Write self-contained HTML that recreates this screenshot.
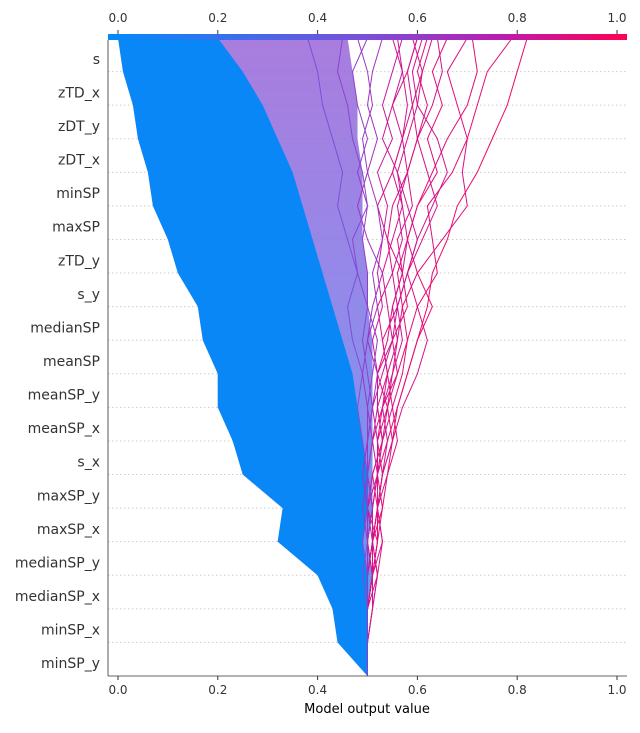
<!DOCTYPE html>
<html><head><meta charset="utf-8"><style>
body{margin:0;background:#fff;font-family:"Liberation Sans","DejaVu Sans",sans-serif}
svg text{font-family:"DejaVu Sans","Liberation Sans",sans-serif}
</style></head><body>
<svg id="chart" width="640" height="728" viewBox="0 0 640 728" xmlns="http://www.w3.org/2000/svg">
<defs>
<linearGradient id="cbar" x1="0" x2="1" y1="0" y2="0">
<stop offset="0" stop-color="#008bfb"/><stop offset="0.5" stop-color="#7b4fd8"/><stop offset="0.75" stop-color="#b81eb0"/><stop offset="1" stop-color="#ff0052"/>
</linearGradient>
<linearGradient id="band" x1="0" x2="0" y1="0" y2="1">
<stop offset="0" stop-color="#9a66d8"/><stop offset="0.5" stop-color="#7a78e8"/><stop offset="1" stop-color="#3a86f2"/>
</linearGradient>
</defs>
<g id="grid"></g>
<g id="marks"></g>
<g id="axes"></g>
</svg>
<script>
const features=["s","zTD_x","zDT_y","zDT_x","minSP","maxSP","zTD_y","s_y","medianSP","meanSP","meanSP_y","meanSP_x","s_x","maxSP_y","maxSP_x","medianSP_y","medianSP_x","minSP_x","minSP_y"];
const xTicks=[0,0.2,0.4,0.6,0.8,1.0];
const xTickLabels=["0.0","0.2","0.4","0.6","0.8","1.0"];
// envelopes, bottom (base) to top (output)
const blueLeft=[0.5,0.44,0.43,0.40,0.32,0.33,0.25,0.23,0.20,0.20,0.17,0.16,0.12,0.10,0.07,0.06,0.04,0.03,0.01,0.0];
const blueRight=[0.5,0.5,0.5,0.5,0.49,0.5,0.5,0.49,0.48,0.47,0.45,0.43,0.41,0.39,0.37,0.35,0.32,0.29,0.25,0.20];
const purpleRight=[0.5,0.5,0.5,0.51,0.5,0.51,0.51,0.51,0.51,0.51,0.51,0.5,0.5,0.49,0.49,0.49,0.48,0.48,0.47,0.46];
const lineValues=[
[0.5,0.5,0.5,0.51,0.52,0.52,0.53,0.55,0.56,0.58,0.6,0.62,0.63,0.66,0.68,0.72,0.75,0.78,0.8,0.82],
[0.5,0.5,0.51,0.52,0.51,0.53,0.54,0.56,0.55,0.57,0.58,0.6,0.64,0.63,0.62,0.67,0.7,0.72,0.74,0.79],
[0.5,0.5,0.5,0.51,0.5,0.51,0.52,0.52,0.54,0.55,0.56,0.57,0.6,0.65,0.7,0.69,0.7,0.68,0.66,0.7],
[0.5,0.5,0.5,0.5,0.51,0.52,0.53,0.52,0.53,0.56,0.58,0.57,0.56,0.58,0.6,0.64,0.62,0.65,0.63,0.66],
[0.5,0.5,0.5,0.51,0.52,0.5,0.51,0.53,0.52,0.52,0.55,0.54,0.53,0.55,0.57,0.56,0.58,0.6,0.61,0.63],
[0.5,0.5,0.5,0.5,0.51,0.51,0.5,0.51,0.53,0.54,0.53,0.52,0.55,0.54,0.52,0.55,0.57,0.55,0.58,0.6],
[0.5,0.5,0.51,0.51,0.5,0.51,0.52,0.52,0.51,0.53,0.55,0.56,0.58,0.6,0.58,0.56,0.53,0.55,0.57,0.56],
[0.5,0.5,0.5,0.51,0.51,0.52,0.51,0.53,0.54,0.52,0.54,0.55,0.57,0.54,0.55,0.58,0.6,0.62,0.6,0.62],
[0.5,0.5,0.5,0.5,0.51,0.5,0.52,0.51,0.52,0.52,0.51,0.53,0.52,0.53,0.54,0.52,0.55,0.53,0.55,0.57],
[0.5,0.5,0.5,0.51,0.52,0.53,0.52,0.54,0.56,0.58,0.6,0.63,0.6,0.58,0.6,0.63,0.66,0.7,0.72,0.71],
[0.5,0.5,0.5,0.52,0.53,0.52,0.54,0.55,0.57,0.6,0.62,0.6,0.58,0.61,0.64,0.62,0.6,0.63,0.65,0.64],
[0.5,0.5,0.5,0.5,0.5,0.51,0.52,0.53,0.52,0.54,0.53,0.56,0.58,0.6,0.63,0.66,0.64,0.6,0.59,0.61],
[0.5,0.5,0.51,0.52,0.51,0.52,0.53,0.54,0.53,0.55,0.57,0.56,0.55,0.57,0.56,0.58,0.57,0.59,0.58,0.6],
[0.5,0.5,0.5,0.51,0.53,0.52,0.53,0.55,0.54,0.56,0.55,0.58,0.57,0.56,0.59,0.58,0.6,0.59,0.61,0.59],
[0.5,0.5,0.5,0.5,0.51,0.52,0.52,0.53,0.55,0.54,0.56,0.55,0.57,0.58,0.57,0.55,0.57,0.58,0.57,0.55],
[0.5,0.5,0.5,0.5,0.49,0.5,0.49,0.5,0.51,0.5,0.49,0.5,0.48,0.47,0.5,0.49,0.47,0.46,0.44,0.45],
[0.5,0.5,0.5,0.49,0.5,0.5,0.5,0.49,0.48,0.49,0.47,0.46,0.48,0.46,0.44,0.45,0.43,0.41,0.4,0.38],
[0.5,0.5,0.5,0.5,0.5,0.51,0.5,0.5,0.5,0.51,0.52,0.5,0.5,0.49,0.5,0.48,0.5,0.48,0.47,0.5],
[0.5,0.5,0.5,0.5,0.5,0.5,0.49,0.5,0.51,0.52,0.5,0.51,0.53,0.5,0.48,0.5,0.52,0.5,0.51,0.53],
[0.5,0.5,0.5,0.5,0.5,0.49,0.5,0.51,0.5,0.49,0.5,0.52,0.51,0.53,0.52,0.5,0.49,0.51,0.5,0.48]];
const lineColors=[0.95,0.9,0.88,0.9,0.85,0.85,0.82,0.88,0.8,0.9,0.86,0.84,0.83,0.87,0.85,0.55,0.5,0.6,0.65,0.62];
const x0=118,x1=617,yBottom=676,yTop=38;
const X=v=>x0+v*(x1-x0);
const Y=i=>yBottom-i*(yBottom-yTop)/19;
function col(t){const s=[[0,[0,139,251]],[0.5,[123,79,216]],[0.75,[184,30,176]],[1,[255,0,82]]];for(let k=0;k<3;k++){if(t<=s[k+1][0]){const f=(t-s[k][0])/(s[k+1][0]-s[k][0]);return 'rgb('+s[k][1].map((c,j)=>Math.round(c+f*(s[k+1][1][j]-c))).join(',')+')';}}return 'rgb(255,0,82)';}
const NS="http://www.w3.org/2000/svg";
function mk(tag,attrs,parent){const e=document.createElementNS(NS,tag);for(const k in attrs)e.setAttribute(k,attrs[k]);parent.appendChild(e);return e;}
const grid=document.getElementById('grid'),marks=document.getElementById('marks'),axes=document.getElementById('axes');
for(let i=1;i<19;i++){const l=mk('line',{x1:108,x2:627,y1:Y(i),y2:Y(i),stroke:'#ccc','stroke-dasharray':'1.5,2.5','stroke-width':1},grid);

}
function poly(left,right){let p=[];for(let i=0;i<20;i++)p.push(X(left[i])+','+Y(i));for(let i=19;i>=0;i--)p.push(X(right[i])+','+Y(i));return p.join(' ');}
const band=mk('polygon',{points:poly(blueLeft,purpleRight),fill:'url(#band)','fill-opacity':0.85},marks);


const blue=mk('polygon',{points:poly(blueLeft,blueRight),fill:'#0a87f6'},marks);


lineValues.forEach((vals,k)=>{const pl=mk('polyline',{points:vals.map((v,i)=>X(v)+','+Y(i)).join(' '),fill:'none',stroke:col(lineColors[k]),'stroke-width':1},marks);

});
features.forEach((f,i)=>{const t=mk('text',{x:100,y:Y(18-i)-16.8+9,'text-anchor':'end','font-size':14,fill:'#333'},axes);t.textContent=f;

});
const cb=mk('rect',{x:108,y:34,width:519,height:6,fill:'url(#cbar)'},axes);


mk('line',{x1:108,x2:108,y1:40,y2:676,stroke:'#333','stroke-width':0.8},axes);
mk('line',{x1:108,x2:627,y1:676,y2:676,stroke:'#333','stroke-width':0.8},axes);
xTicks.forEach((v,i)=>{mk('line',{x1:X(v),x2:X(v),y1:676,y2:680,stroke:'#333'},axes);
const t=mk('text',{x:X(v),y:694,'text-anchor':'middle','font-size':12,fill:'#333'},axes);t.textContent=xTickLabels[i];


mk('line',{x1:X(v),x2:X(v),y1:30,y2:34,stroke:'#333'},axes);
const t2=mk('text',{x:X(v),y:22,'text-anchor':'middle','font-size':12,fill:'#333'},axes);t2.textContent=xTickLabels[i];

});
const xt=mk('text',{x:367,y:713,'text-anchor':'middle','font-size':13,fill:'#000'},axes);xt.textContent='Model output value';


</script>
</body></html>
